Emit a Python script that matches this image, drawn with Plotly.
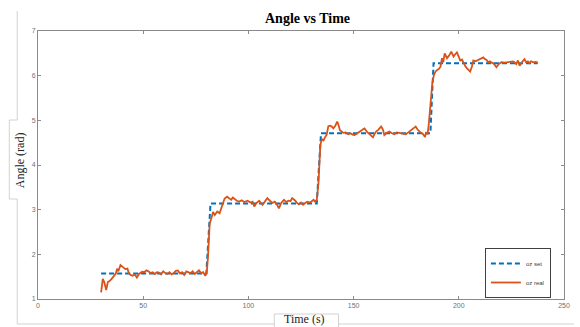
import plotly.graph_objects as go

# Set-point (commanded angle) in rad
t_set = [30, 80, 82, 132.5, 134.5, 186.5, 188, 237.5]
oz_set = [1.57, 1.57, 3.14, 3.14, 4.71, 4.71, 6.28, 6.28]

# Measured angle in rad
t_real = [
    30, 30.8, 31.5, 32.4, 33.2, 34, 35, 36.2, 37, 37.6, 38.2, 39.2, 40.2, 41.5, 42.5, 43.2,
    44, 45, 46, 47, 48, 49.5, 50.5, 51.5, 52.5, 53.5, 54.5, 55.5, 56.5, 57.5, 58.5, 59.5,
    60.5, 61.5, 62.5, 63.5, 64.5, 65.5, 66.5, 67.5, 68.5, 69.5, 70.5, 71.5, 72.5, 73.5,
    74.5, 75.5, 76.5, 77.5, 78.5, 79.5, 80.2, 80.8, 81.3, 81.6, 82.4, 83.2, 84, 85.2, 86.3,
    87.1, 87.9, 88.7, 89.9, 90.8, 91.8, 92.6, 93.4, 94.5, 95.7, 96.8, 98, 99.6, 101, 102,
    102.8, 103.8, 105.1, 106.7, 107.8, 109, 110.2, 111.4, 112.5, 113.5, 114.5, 115.6,
    116.9, 118, 119, 120, 120.8, 121.6, 122.3, 123.1, 124, 125, 126, 127, 128, 129.4,
    130.3, 131, 131.7, 132.5, 133.3, 133.8, 134.2, 134.9, 135.7, 136.4, 137.2, 138, 138.8,
    139.6, 140.4, 141.3, 142.2, 142.8, 143.5, 144.3, 145.1, 146.2, 147.4, 148.5, 149.5,
    150.5, 151.5, 152.6, 153.7, 154.5, 155.2, 156.4, 157.6, 158.4, 159.2, 160, 160.7,
    161.8, 163.1, 163.9, 164.6, 165.8, 167, 168.2, 169.3, 170.5, 171.7, 173.3, 174.8, 176,
    177.2, 178.4, 179.5, 180.3, 181.1, 182, 182.7, 183.9, 184.5, 185.2, 185.8, 186.6,
    187.4, 188.2, 188.9, 189.7, 190.5, 191.3, 192, 192.6, 193.3, 194.4, 195.4, 196.4,
    197.5, 198.3, 199.1, 200, 200.7, 201.5, 202.2, 203, 203.8, 204.6, 205.4, 206.2, 206.9,
    208, 209.3, 210.5, 211.6, 212.4, 213.2, 214, 214.8, 215.6, 216.3, 217.1, 217.9, 219,
    220.2, 221.8, 223.4, 224.5, 225.7, 226.5, 227.3, 228.1, 228.9, 230, 231.2, 232, 232.8,
    233.5, 234.3, 235.5, 236.5, 237.5,
]
oz_real = [
    1.15, 1.45, 1.38, 1.20, 1.38, 1.40, 1.45, 1.53, 1.57, 1.68, 1.62, 1.76, 1.72, 1.67, 1.68, 1.58,
    1.54, 1.52, 1.55, 1.48, 1.56, 1.61, 1.60, 1.64, 1.62, 1.58, 1.60, 1.56, 1.60, 1.59, 1.55, 1.62,
    1.58, 1.56, 1.60, 1.55, 1.58, 1.63, 1.64, 1.57, 1.60, 1.54, 1.62, 1.60, 1.58, 1.62,
    1.56, 1.60, 1.64, 1.58, 1.60, 1.52, 1.58, 1.95, 2.32, 2.69, 2.81, 2.95, 2.88, 2.96, 2.92,
    3.05, 3.15, 3.25, 3.29, 3.25, 3.22, 3.27, 3.24, 3.20, 3.18, 3.21, 3.17, 3.20, 3.16, 3.18,
    3.07, 3.15, 3.20, 3.11, 3.18, 3.26, 3.20, 3.15, 3.18, 3.12, 3.03, 3.15,
    3.22, 3.17, 3.20, 3.19, 3.26, 3.23, 3.20, 3.15, 3.12, 3.16, 3.11, 3.15, 3.18, 3.16,
    3.20, 3.22, 3.18, 3.22, 3.60, 3.95, 4.45, 4.58, 4.55, 4.62, 4.68, 4.87, 4.88,
    4.86, 4.82, 4.88, 4.97, 4.90, 4.78, 4.75, 4.72, 4.73, 4.69, 4.71, 4.68,
    4.67, 4.70, 4.72, 4.77, 4.80, 4.82, 4.74, 4.69, 4.64, 4.62, 4.70, 4.75,
    4.79, 4.86, 4.80, 4.67, 4.72, 4.75, 4.71, 4.69, 4.73, 4.72, 4.70, 4.69, 4.73,
    4.78, 4.82, 4.86, 4.80, 4.75, 4.72, 4.71, 4.63, 4.72, 4.70, 4.95, 5.45,
    5.83, 6.02, 6.09, 6.13, 6.15, 6.20, 6.39, 6.30, 6.50, 6.39, 6.45, 6.54,
    6.43, 6.48, 6.52, 6.42, 6.34, 6.36, 6.28, 6.22, 6.17, 6.12, 6.09, 6.20, 6.34,
    6.32, 6.35, 6.38, 6.41, 6.37, 6.35, 6.30, 6.32, 6.29, 6.28, 6.24, 6.19, 6.26,
    6.30, 6.29, 6.30, 6.31, 6.32, 6.30, 6.26, 6.34, 6.22, 6.30, 6.37, 6.30, 6.32,
    6.28, 6.32, 6.30, 6.31, 6.30,
]

W, H = 580, 327
L, R, T, B = 38, 10, 31, 28
PW, PH = W - L - R, H - T - B


def px(x):
    return (x - L) / PW


def py(y):
    return (H - B - y) / PH


fig = go.Figure()
fig.add_trace(go.Scatter(
    x=t_set, y=oz_set, mode="lines", name="oz set",
    line=dict(color="#0072BD", width=2, dash="5px,3px"),
))
fig.add_trace(go.Scatter(
    x=t_real, y=oz_real, mode="lines", name="oz real",
    line=dict(color="#D95319", width=1.8),
))

axis_common = dict(
    showline=True, mirror="allticks", linecolor="#8a8a8a", linewidth=1,
    ticks="inside", ticklen=3, tickcolor="#8a8a8a", showgrid=False, zeroline=False,
    tickfont=dict(family="Liberation Sans", size=7, color="#707070"),
)
fig.update_xaxes(range=[0, 250], tick0=0, dtick=50, **axis_common)
fig.update_yaxes(range=[1, 7], tick0=1, dtick=1, **axis_common)

# light frame lines around the pasted label boxes
gray = dict(color="#d2d2d2", width=1)
segments = [
    (17, 11, 17, 120), (9, 120, 17, 120), (9, 120, 9, 199), (9, 199, 17, 199),
    (17, 199, 17, 324), (17, 324, 277, 324), (342, 324, 580, 324),
    (277, 314, 277, 327), (277, 314, 342, 314), (342, 314, 342, 327),
]
shapes = [
    dict(type="line", xref="paper", yref="paper",
         x0=px(a), y0=py(b), x1=px(c), y1=py(d), line=gray, layer="below")
    for a, b, c, d in segments
]

fig.update_layout(
    width=W, height=H,
    margin=dict(l=L, r=R, t=T, b=B),
    paper_bgcolor="white", plot_bgcolor="white",
    showlegend=True,
    legend=dict(
        x=px(490), y=py(248), xanchor="left", yanchor="top",
        bgcolor="white", bordercolor="#404040", borderwidth=1,
        font=dict(family="Liberation Sans", size=6, color="#404040"),
        tracegroupgap=0, itemwidth=30,
    ),
    shapes=shapes,
    annotations=[
        dict(text="<b>Angle vs Time</b>", x=px(311), y=py(18), xref="paper", yref="paper",
             showarrow=False, xanchor="center", yanchor="middle",
             font=dict(family="Liberation Serif", size=14, color="black")),
        dict(text="Time (s)", x=px(308), y=py(319), xref="paper", yref="paper",
             showarrow=False, xanchor="center", yanchor="middle",
             font=dict(family="Liberation Serif", size=12, color="#222")),
        dict(text="Angle (rad)", x=px(20), y=py(160), xref="paper", yref="paper",
             showarrow=False, xanchor="center", yanchor="middle", textangle=-90,
             font=dict(family="Liberation Serif", size=12, color="#222")),
    ],
)

fig.write_html("out.html")
